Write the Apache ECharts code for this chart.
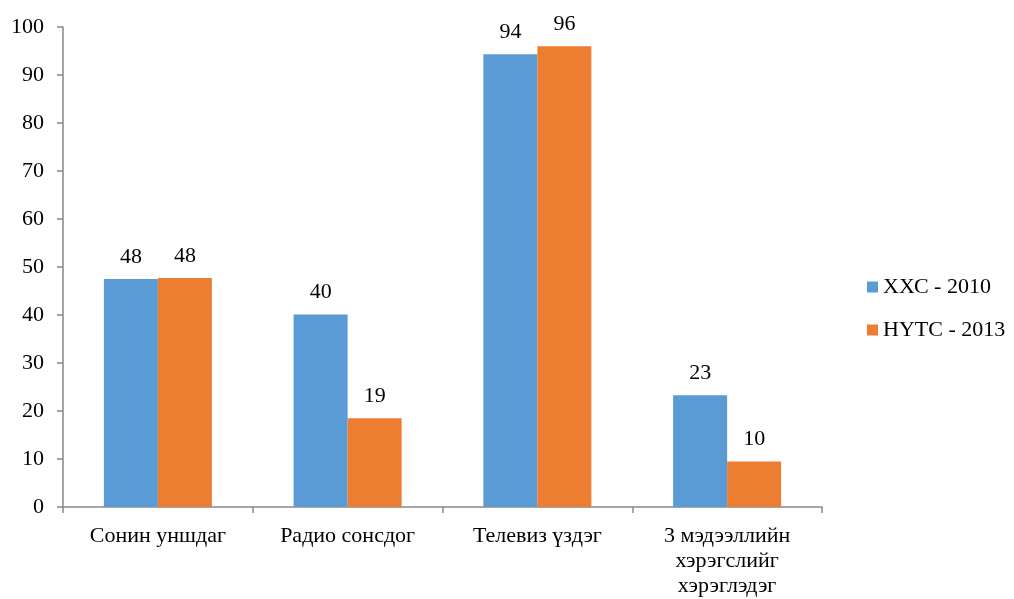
<!DOCTYPE html>
<html><head><meta charset="utf-8">
<script src="https://cdn.jsdelivr.net/npm/echarts@6/dist/echarts.min.js"></script>
<style>html,body{margin:0;padding:0;background:#fff}#c{width:1014px;height:599px}</style>
</head><body><div id="c"></div>
<script>
const categories = ['Сонин уншдаг', 'Радио сонсдог', 'Телевиз үздэг', '3 мэдээллийн\nхэрэгслийг\nхэрэглэдэг'];
const seriesNames = ['ХХС - 2010', 'НҮТС - 2013'];
const values2010 = [47.5, 40.1, 94.3, 23.3];
const values2013 = [47.7, 18.5, 96.0, 9.5];
const yTicks = [0, 10, 20, 30, 40, 50, 60, 70, 80, 90, 100];

const font = '"Liberation Serif", "Times New Roman", serif';
const chart = echarts.init(document.getElementById('c'));
const lbl = {show: true, position: 'top', distance: 11, color: '#000', fontFamily: font, fontSize: 22,
  formatter: p => Math.round(p.value)};
chart.setOption({
  animation: false,
  textStyle: {fontFamily: font},
  grid: {left: 63, right: 192, top: 27, bottom: 92},
  legend: {
    orient: 'vertical', left: 862, top: 271, itemWidth: 11, itemHeight: 11, itemGap: 21,
    icon: 'rect', textStyle: {fontFamily: font, fontSize: 22, color: '#000'},
    data: seriesNames
  },
  xAxis: {
    type: 'category', data: categories,
    axisLine: {lineStyle: {color: '#898989', width: 1.5}},
    axisTick: {show: true, length: 6, lineStyle: {color: '#898989', width: 1.5}},
    axisLabel: {color: '#000', fontFamily: font, fontSize: 22, margin: 17, lineHeight: 25, interval: 0}
  },
  yAxis: {
    type: 'value', min: yTicks[0], max: yTicks[yTicks.length - 1], interval: 10,
    splitLine: {show: false},
    axisLine: {show: true, lineStyle: {color: '#898989', width: 1.5}},
    axisTick: {show: true, length: 6, lineStyle: {color: '#898989', width: 1.5}},
    axisLabel: {color: '#000', fontFamily: font, fontSize: 22, margin: 19}
  },
  series: [
    {name: seriesNames[0], type: 'bar', data: values2010, barWidth: 54, barGap: '0%',
     itemStyle: {color: '#5B9BD5'}, label: lbl},
    {name: seriesNames[1], type: 'bar', data: values2013, barWidth: 54,
     itemStyle: {color: '#ED7D31'}, label: lbl}
  ]
});
</script></body></html>
